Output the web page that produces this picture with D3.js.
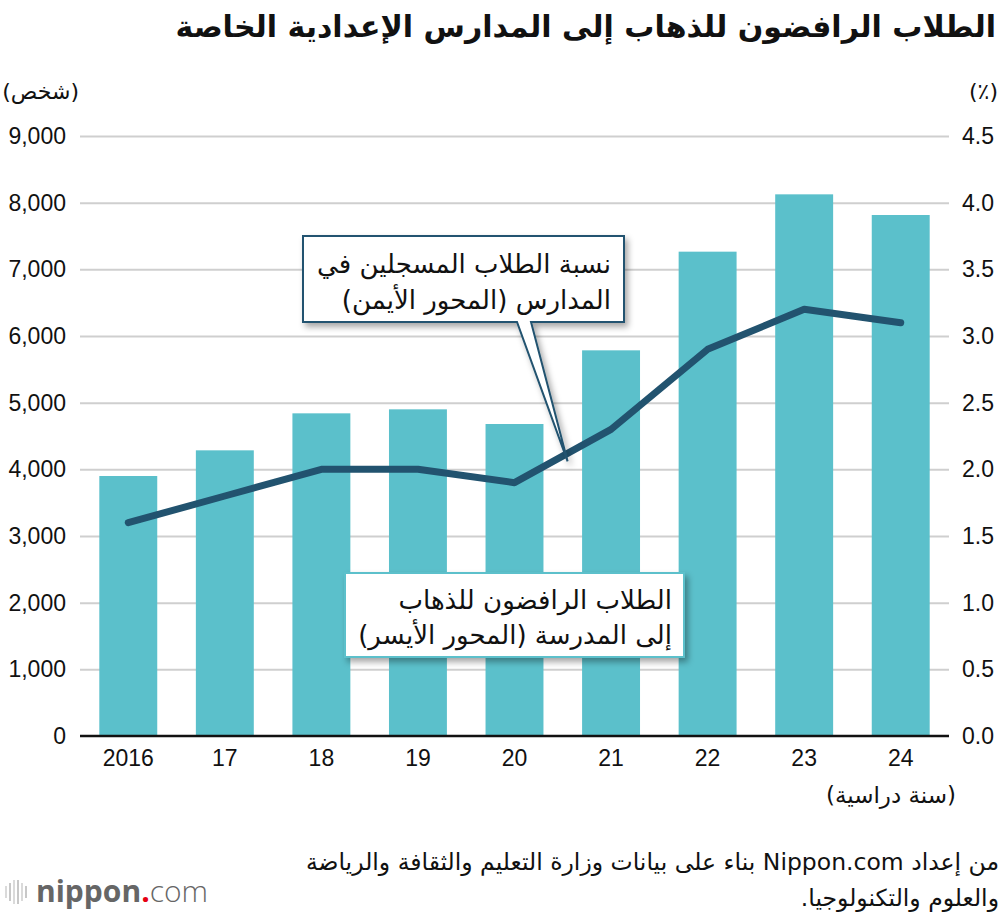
<!DOCTYPE html>
<html>
<head>
<meta charset="utf-8">
<script src="https://cdn.jsdelivr.net/npm/d3@7"></script>
<style>
  body { margin: 0; background: #fff; }
  svg { display: block; }
  .num { font-family: "Liberation Sans", Arial, sans-serif; font-size: 23px; fill: #111; }
  .ar { font-family: "DejaVu Sans", sans-serif; fill: #111; direction: rtl; unicode-bidi: embed; }
</style>
</head>
<body>
<svg id="chart" width="1000" height="916"></svg>
<script>
/* data */
var years = ["2016", "17", "18", "19", "20", "21", "22", "23", "24"];
var refusers = [3900, 4285, 4840, 4900, 4680, 5785, 7265, 8125, 7815];   // left axis, persons
var ratio = [1.6, 1.8, 2.0, 2.0, 1.9, 2.3, 2.9, 3.2, 3.1];               // right axis, %
var leftTicks = [0, 1000, 2000, 3000, 4000, 5000, 6000, 7000, 8000, 9000];
var rightTicks = [0, 0.5, 1.0, 1.5, 2.0, 2.5, 3.0, 3.5, 4.0, 4.5];

var barColor = "#5bc0cb",
    lineColor = "#22536f";

var margin = { left: 80, right: 51, top: 136, bottom: 180 },
    width = 1000,
    height = 916;

var svg = d3.select("#chart");

var defs = svg.append("defs");
var shadow = defs.append("filter").attr("id", "shadow")
    .attr("x", "-10%").attr("y", "-20%").attr("width", "130%").attr("height", "150%");
shadow.append("feDropShadow")
    .attr("dx", 3).attr("dy", 4).attr("stdDeviation", 3)
    .attr("flood-color", "#000").attr("flood-opacity", 0.35);

// arabic text helper: rtl, anchored at its right edge
function arText(xr, y, size, str, weight) {
    return svg.append("text")
        .attr("class", "ar")
        .attr("x", xr).attr("y", y)
        .attr("direction", "rtl")
        .attr("text-anchor", "start")
        .style("font-size", size + "px")
        .style("font-weight", weight || "normal")
        .text(str);
}

/* scales */
var x = d3.scaleBand()
    .domain(years)
    .range([margin.left, width - margin.right])
    .paddingInner(0.4)
    .paddingOuter(0.2);

var yL = d3.scaleLinear().domain([0, 9000]).range([height - margin.bottom, margin.top]);
var yR = d3.scaleLinear().domain([0, 4.5]).range([height - margin.bottom, margin.top]);

/* title */
arText(996, 37, 30, "الطلاب الرافضون للذهاب إلى المدارس الإعدادية الخاصة", "bold");

/* unit labels */
arText(79, 99, 22, "(شخص)");
arText(998, 99, 22, "(٪)");

/* grid lines (from left axis ticks) */
var yAxisGrid = d3.axisLeft(yL)
    .tickValues(leftTicks.slice(1))
    .tickSize(-(width - margin.right - margin.left))
    .tickFormat("");
var grid = svg.append("g")
    .attr("transform", "translate(" + margin.left + ",0)")
    .call(yAxisGrid);
grid.select(".domain").remove();
grid.selectAll("line").attr("stroke", "#cfcfcf").attr("stroke-width", 2);

/* left axis labels */
var leftAxis = svg.append("g")
    .attr("transform", "translate(" + (margin.left - 14) + ",0)")
    .call(d3.axisLeft(yL).tickValues(leftTicks).tickSize(0).tickPadding(0).tickFormat(d3.format(",")));
leftAxis.select(".domain").remove();
leftAxis.selectAll("text").attr("class", "num").attr("fill", null);

/* right axis labels */
var rightAxis = svg.append("g")
    .attr("transform", "translate(" + (width - margin.right + 13) + ",0)")
    .call(d3.axisRight(yR).tickValues(rightTicks).tickSize(0).tickPadding(0).tickFormat(d3.format(".1f")));
rightAxis.select(".domain").remove();
rightAxis.selectAll("text").attr("class", "num").attr("fill", null);

/* bars */
svg.append("g").selectAll("rect")
    .data(refusers)
    .join("rect")
    .attr("x", function (d, i) { return x(years[i]); })
    .attr("y", function (d) { return yL(d); })
    .attr("width", x.bandwidth())
    .attr("height", function (d) { return yL(0) - yL(d); })
    .attr("fill", barColor);

/* baseline */
svg.append("line")
    .attr("x1", margin.left).attr("x2", width - margin.right)
    .attr("y1", yL(0)).attr("y2", yL(0))
    .attr("stroke", "#111").attr("stroke-width", 2.5);

/* x axis labels */
var xAxis = svg.append("g")
    .attr("transform", "translate(0," + yL(0) + ")")
    .call(d3.axisBottom(x).tickSize(0).tickPadding(14));
xAxis.select(".domain").remove();
xAxis.selectAll("text").attr("class", "num").attr("fill", null);

arText(956, 803, 23, "(سنة دراسية)");

/* ratio line */
var line = d3.line()
    .x(function (d, i) { return x(years[i]) + x.bandwidth() / 2; })
    .y(function (d) { return yR(d); });

svg.append("path")
    .datum(ratio)
    .attr("d", line)
    .attr("fill", "none")
    .attr("stroke", lineColor)
    .attr("stroke-width", 7)
    .attr("stroke-linejoin", "round")
    .attr("stroke-linecap", "round");

/* callout: ratio (right axis) */
var tipX = x("20") + x.bandwidth() / 2 + x.step() * 0.55,
    tipY = yR(2.06);
svg.append("path")
    .attr("d", "M303,236 H624 V322 H531 L" + tipX + "," + tipY + " L517,322 H303 Z")
    .attr("fill", "#fff")
    .attr("stroke", lineColor)
    .attr("stroke-width", 2)
    .attr("filter", "url(#shadow)");
arText(611, 273, 26, "نسبة الطلاب المسجلين في");
arText(611, 309, 26, "المدارس (المحور الأيمن)");

/* callout: refusers (left axis) */
svg.append("rect")
    .attr("x", 345).attr("y", 573)
    .attr("width", 339).attr("height", 84)
    .attr("fill", "#fff")
    .attr("stroke", barColor)
    .attr("stroke-width", 2)
    .attr("filter", "url(#shadow)");
arText(672, 609, 26, "الطلاب الرافضون للذهاب");
arText(672, 644, 26, "إلى المدرسة (المحور الأيسر)");

/* source */
arText(999, 870, 23.5, "من إعداد Nippon.com بناء على بيانات وزارة التعليم والثقافة والرياضة");
arText(999, 906, 23.5, "والعلوم والتكنولوجيا.");

/* logo */
var logo = svg.append("g").attr("transform", "translate(4,880)");
[[2, 6, 12], [6, 3, 18], [10, 0, 24], [14, 0, 24], [18, 3, 18], [22, 6, 12]].forEach(function (b, i) {
    logo.append("line")
        .attr("x1", b[0]).attr("x2", b[0])
        .attr("y1", b[1]).attr("y2", b[1] + b[2])
        .attr("stroke", i % 2 ? "#c8c8c8" : "#dadada")
        .attr("stroke-width", 2);
});
var logoText = logo.append("text")
    .attr("x", 32).attr("y", 22)
    .style("font-family", "'Open Sans', sans-serif")
    .style("font-size", "30px")
    .attr("fill", "#666");
logoText.append("tspan").style("font-weight", "bold").text("nippon");
logoText.append("tspan").attr("fill", "#e60012").style("font-weight", "bold").text(".");
logoText.append("tspan").style("font-weight", "300").text("com");
</script>
</body>
</html>
